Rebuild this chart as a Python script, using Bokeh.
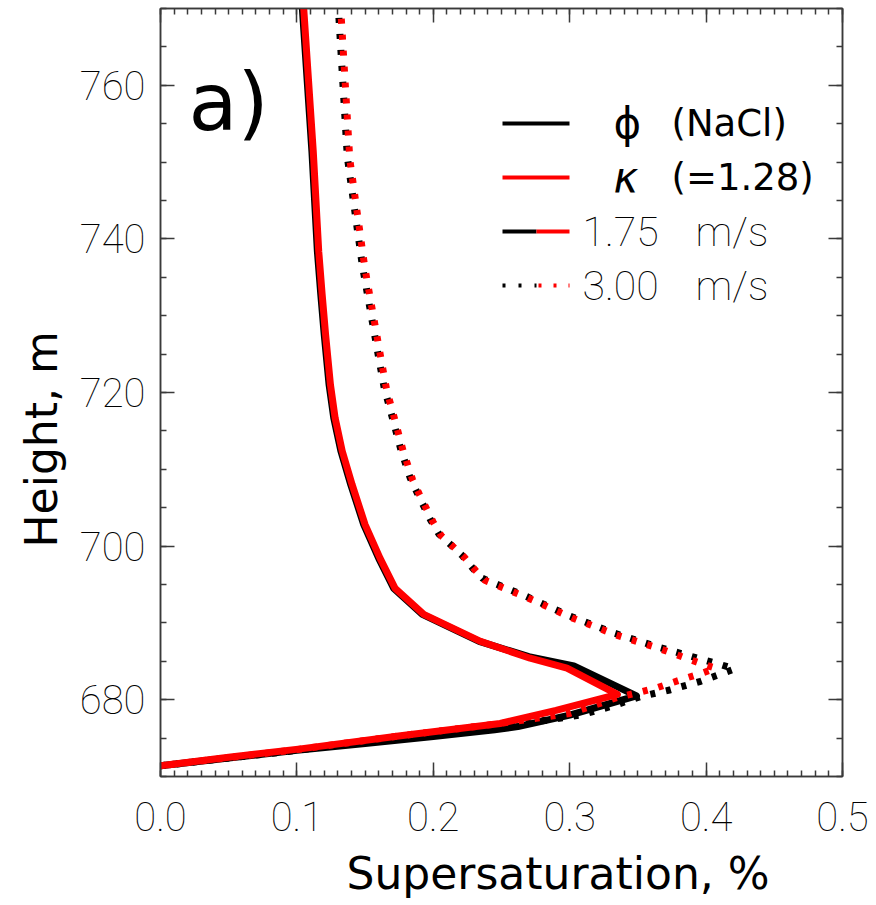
from bokeh.plotting import figure
from bokeh.models import (LinearAxis, SingleIntervalTicker, PrintfTickFormatter,
                          CustomJSTickFormatter, Label, Arrow, Range1d, Title)
from bokeh.embed import file_html
from bokeh.resources import INLINE

# ---------------- data ----------------
# 1.75 m/s, phi (NaCl)  -- black solid
phi_175_s = [0.000, 0.050, 0.100, 0.150, 0.200, 0.245, 0.262, 0.300, 0.349,
             0.303, 0.270, 0.2336, 0.192, 0.171, 0.160, 0.149, 0.1395, 0.1322,
             0.127, 0.1236, 0.120, 0.1175, 0.115, 0.111, 0.104]
phi_175_h = [671.4, 672.4, 673.4, 674.3, 675.2, 676.1, 676.5, 678.0, 680.5,
             684.4, 685.6, 687.6, 691.1, 694.5, 698.4, 702.8, 708.0, 712.4,
             716.7, 721.0, 727.6, 732.8, 738.4, 751.4, 770.0]

# 1.75 m/s, kappa (=1.28) -- red solid
kap_175_s = [0.000, 0.050, 0.1026, 0.176, 0.249, 0.290, 0.335,
             0.298, 0.271, 0.2346, 0.193, 0.172, 0.161, 0.150, 0.1405, 0.1332,
             0.128, 0.1246, 0.121, 0.1185, 0.116, 0.112, 0.105]
kap_175_h = [671.4, 672.5, 673.6, 675.3, 676.9, 678.6, 680.7,
             684.1, 685.4, 687.6, 691.1, 694.5, 698.4, 702.8, 708.0, 712.4,
             716.7, 721.0, 727.6, 732.8, 738.4, 751.4, 770.0]

# 3.00 m/s, phi (NaCl) -- black dotted
phi_300_s = [0.000, 0.100, 0.176, 0.245, 0.273, 0.286, 0.308, 0.330, 0.352,
             0.374, 0.396, 0.421,
             0.410, 0.396, 0.364, 0.332, 0.300, 0.2676, 0.247, 0.236, 0.2285,
             0.221, 0.2126, 0.204, 0.198, 0.193, 0.188, 0.183, 0.176, 0.170,
             0.164, 0.160, 0.156, 0.152, 0.148, 0.137, 0.1307, 0.1303]
phi_300_h = [671.4, 673.4, 675.2, 676.4, 677.1, 677.4, 678.0, 679.1, 680.4,
             681.3, 682.4, 684.0,
             684.6, 685.3, 686.9, 688.7, 690.9, 693.5, 695.0, 695.8, 697.2,
             698.8, 700.2, 701.6, 703.4, 705.2, 707.0, 708.9, 712.7, 716.7,
             720.6, 724.5, 728.5, 732.5, 736.5, 750.6, 769.1, 770.0]

# 3.00 m/s, kappa (=1.28) -- red dotted
kap_300_s = [0.000, 0.100, 0.176, 0.249, 0.300, 0.335, 0.352, 0.363, 0.385,
             0.396, 0.407,
             0.398, 0.3658, 0.3338, 0.3018, 0.2694, 0.2488, 0.2378, 0.2303,
             0.2228, 0.2144, 0.2058, 0.1998, 0.1948, 0.1898, 0.1848, 0.1778,
             0.1718, 0.1658, 0.1618, 0.1578, 0.1538, 0.1498, 0.1388, 0.1325,
             0.1321]
kap_300_h = [671.4, 673.5, 675.3, 676.9, 678.2, 680.3, 681.0, 681.5, 682.8,
             683.4, 684.1,
             684.6, 686.65, 688.45, 690.65, 693.25, 694.75, 695.55, 696.95,
             698.55, 699.95, 701.35, 703.15, 704.95, 706.75, 708.65, 712.45,
             716.45, 720.35, 724.25, 728.25, 732.25, 736.25, 750.35, 768.85,
             770.0]

x_range = (0.0, 0.5)
y_range = (670, 770)
x_tick_step = 0.1
y_tick_step = 20

legend_labels = [("ϕ", "(NaCl)"), ("κ", "(=1.28)"), ("1.75", "m/s"), ("3.00", "m/s")]

# ---------------- styling ----------------
THIN = "Roboto Thin"
REG = "DejaVu Sans"
AX = "#3a3a3a"
BLACK = "#000000"
RED = "#ff0000"

p = figure(width=876, height=905, x_range=Range1d(*x_range), y_range=Range1d(*y_range),
           output_backend="svg", toolbar_location=None,
           x_axis_location=None, y_axis_location=None,
           min_border_left=160, min_border_right=34, min_border_top=8,
           min_border_bottom=129)
p.grid.visible = False
p.background_fill_color = "white"
p.border_fill_color = "white"
p.outline_line_color = AX
p.outline_line_width = 1.5


def make_axis(kind, show_labels):
    if kind == "x":
        ticker = SingleIntervalTicker(interval=x_tick_step, num_minor_ticks=10)
        fmt = PrintfTickFormatter(format="%.1f")
    else:
        ticker = SingleIntervalTicker(interval=y_tick_step, num_minor_ticks=4)
        fmt = PrintfTickFormatter(format="%d")
    if not show_labels:
        fmt = CustomJSTickFormatter(code="return ''")
    ax = LinearAxis(ticker=ticker, formatter=fmt)
    ax.axis_line_color = AX
    ax.axis_line_width = 1.5
    ax.major_tick_line_color = AX
    ax.minor_tick_line_color = AX
    ax.major_tick_line_width = 1.5
    ax.minor_tick_line_width = 1.5
    ax.major_tick_in = 14
    ax.major_tick_out = 0
    ax.minor_tick_in = 6
    ax.minor_tick_out = 0
    if show_labels:
        ax.major_label_text_font = THIN
        ax.major_label_text_font_size = "40px"
        ax.major_label_text_color = "#000000"
    else:
        ax.major_label_standoff = 0
    return ax


xb = make_axis("x", True)
xb.major_label_standoff = 25
p.add_layout(xb, "below")
yl = make_axis("y", True)
yl.major_label_standoff = 15
yl.major_label_orientation = "horizontal"
p.add_layout(yl, "left")
p.add_layout(make_axis("x", False), "above")
p.add_layout(make_axis("y", False), "right")

# axis titles (side-panel titles, off-centre as in the reference)
xt_kwargs = dict(text="Supersaturation, %", text_font=REG, text_font_size="44px",
                 text_font_style="normal", text_color="black", align="left", offset=186)
if "padding" in Title.properties():
    xtitle = Title(vertical_align="top", standoff=0, padding=(0, 0, 14, 0), **xt_kwargs)
else:
    xtitle = Title(vertical_align="bottom", standoff=18, **xt_kwargs)
p.add_layout(xtitle, "below")
p.add_layout(Title(text="Height, m", text_font=REG, text_font_size="44px",
                   text_font_style="normal", text_color="black",
                   align="left", offset=229, standoff=20, vertical_align="bottom"), "left")

# ---------------- curves ----------------
p.line(phi_175_s, phi_175_h, line_color=BLACK, line_width=7, line_join="round")
p.line(phi_300_s, phi_300_h, line_color=BLACK, line_width=7, line_dash="5 11",
       line_cap="butt")
p.line(kap_175_s, kap_175_h, line_color=RED, line_width=7, line_join="round")
p.line(kap_300_s, kap_300_h, line_color=RED, line_width=7, line_dash="5 11",
       line_dash_offset=7, line_cap="butt")

# panel tag
p.add_layout(Label(x=28, y=674, x_units="screen", y_units="screen", text="a)",
                   text_font=REG, text_font_size="80px", text_align="left",
                   text_baseline="middle", text_color="black"))

# ---------------- legend ----------------
rows_y = [653, 599, 545, 491]
x0, xm, x1 = 342, 376, 409


def seg(xs, xe, y, color, width, dash="solid"):
    p.add_layout(Arrow(x_start=xs, y_start=y, x_end=xe, y_end=y,
                       start_units="screen", end_units="screen",
                       start=None, end=None, line_color=color, line_width=width,
                       line_dash=dash, line_cap="butt"))


seg(x0, x1, rows_y[0], BLACK, 4)
seg(x0, x1, rows_y[1], RED, 4)
seg(x0, xm, rows_y[2], BLACK, 4)
seg(xm, x1, rows_y[2], RED, 4)
seg(x0, xm, rows_y[3], BLACK, 4, "3 13")
seg(xm + 2, x1, rows_y[3], RED, 4, "3 12")

sym_styles = ["normal", "italic"]
for i, (a, b) in enumerate(legend_labels):
    if i < 2:
        p.add_layout(Label(x=453, y=rows_y[i], x_units="screen", y_units="screen",
                           text=a, text_font=REG, text_font_size="42px",
                           text_font_style=sym_styles[i],
                           text_align="left", text_baseline="middle", text_color="black"))
        p.add_layout(Label(x=511, y=rows_y[i], x_units="screen", y_units="screen",
                           text=b, text_font=REG, text_font_size="37px",
                           text_align="left", text_baseline="middle", text_color="black"))
    else:
        p.add_layout(Label(x=422, y=rows_y[i], x_units="screen", y_units="screen",
                           text=a, text_font=THIN, text_font_size="41px",
                           text_align="left", text_baseline="middle", text_color="black"))
        p.add_layout(Label(x=535, y=rows_y[i], x_units="screen", y_units="screen",
                           text=b, text_font=THIN, text_font_size="41px",
                           text_align="left", text_baseline="middle", text_color="black"))

open("out.html", "w").write(file_html(p, INLINE))
